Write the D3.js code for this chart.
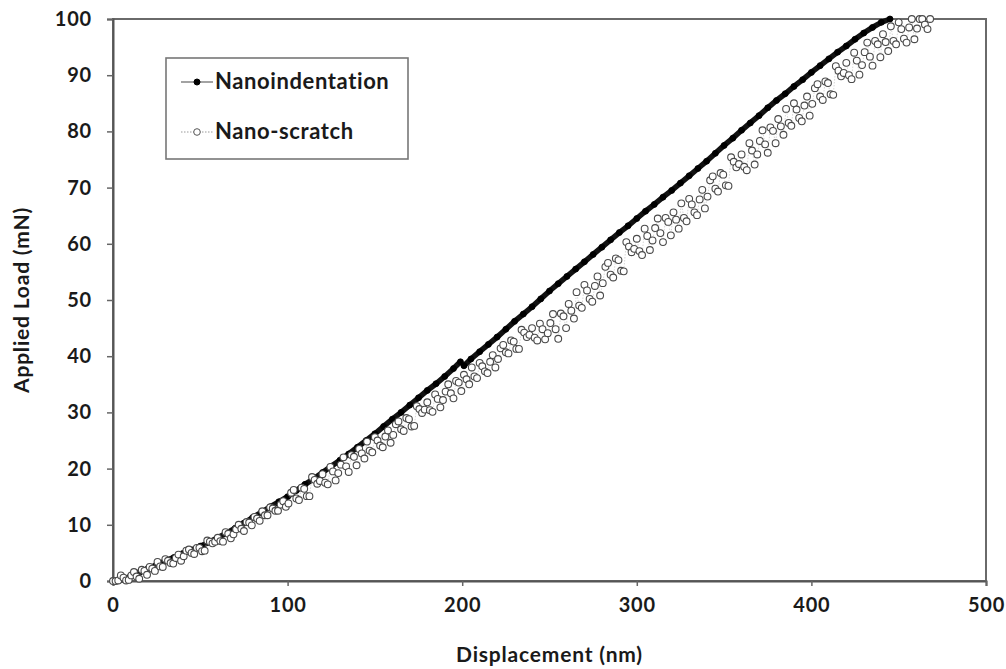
<!DOCTYPE html>
<html>
<head>
<meta charset="utf-8">
<script src="https://cdn.jsdelivr.net/npm/d3@7"></script>
<style>
  html, body { margin: 0; padding: 0; background: #fff; }
  svg { display: block; }
  text { font-family: Lato, "Open Sans", sans-serif; font-weight: bold; fill: #1a1a1a; }
</style>
</head>
<body>
<script>
// ---------- data ----------
const seriesNames = ["Nanoindentation", "Nano-scratch"];
const xTicks = [0, 100, 200, 300, 400, 500];
const yTicks = [0, 10, 20, 30, 40, 50, 60, 70, 80, 90, 100];
const xTitle = "Displacement (nm)";
const yTitle = "Applied Load (mN)";

const dispNano = [0,5,10,15,20,25,30,35,40,45,50,55,60,65,70,75,80,85,90,95,100,105,110,115,120,125,130,135,140,145,150,155,160,165,170,175,180,185,190,195,199,201,205,210,215,220,225,230,235,240,245,250,255,260,265,270,275,280,285,290,295,300,305,310,315,320,325,330,335,340,345,350,355,360,365,370,375,380,385,390,395,400,405,410,415,420,425,430,435,440,445];
const loadNano = [0,0.3,0.8,1.5,2.2,2.9,3.6,4.2,4.9,5.5,6.2,6.9,7.7,8.5,9.4,10.3,11.3,12.2,13.2,14.1,15.0,16.1,17.2,18.2,19.3,20.4,21.5,22.6,23.8,25.0,26.2,27.5,28.8,30.0,31.3,32.6,33.9,35.1,36.4,37.8,39.0,38.3,39.5,40.8,42.1,43.4,44.8,46.2,47.5,48.8,50.2,51.6,52.9,54.2,55.5,56.8,58.1,59.4,60.7,62.0,63.2,64.5,65.8,67.0,68.3,69.5,70.8,72.1,73.4,74.7,76.1,77.5,78.8,80.2,81.5,82.8,84.2,85.5,86.7,88.0,89.2,90.5,91.7,92.9,94.1,95.2,96.4,97.5,98.5,99.4,100];

// Nano-scratch, recorded in two interleaved runs of readings
const dispScratchA = [0,3,6,9,12,15,18,21,24,27,30,33,36,39,42,45,48,51,54,57,60,63,66,69,72,75,78,81,84,87,90,93,96,99,102,105,108,111,114,117,120,123,126,129,132,135,138,141,144,147,150,153,156,159,162,165,168,171,174,177,180,183,186,189,192,195,198,201,204,207,210,213,216,219,222,225,228,231,234,237,240,243,246,249,252,255,258,261,264,267,270,273,276,279,282,285,288,291,294,297,300,303,306,309,312,315,318,321,324,327,330,333,336,339,342,345,348,351,354,357,360,363,366,369,372,375,378,381,384,387,390,393,396,399,402,405,408,411,414,417,420,423,426,429,432,435,438,441,444,447,450,453,456,459,462,465,468];
const loadScratchA = [0,0.1,0.6,0.2,1.6,0.4,1.8,2.5,1.8,2.6,3.9,3.2,4.1,3.6,5.4,5.0,5.9,5.3,7.2,6.7,7.7,7.0,8.4,8.3,10.0,8.9,10.4,11.4,10.7,11.7,13.1,12.5,13.6,13.2,15.7,14.7,16.6,15.1,18.5,17.3,19.0,17.2,19.5,19.2,22.0,19.4,22.1,23.5,21.8,23.2,25.6,24.1,25.7,24.6,27.9,27.0,29.0,27.5,31.1,29.9,31.8,30.1,32.4,32.2,35.0,32.5,35.3,36.7,35.0,36.4,38.8,37.3,39.0,38.0,41.4,40.7,42.8,41.3,44.7,43.4,45.0,42.8,44.8,44.1,47.5,43.1,47.1,49.3,46.7,49.0,52.7,50.2,52.5,50.8,55.9,54.5,57.4,55.2,60.3,58.5,60.9,58.0,61.4,60.6,64.5,60.3,63.9,65.6,62.7,64.6,68.0,65.6,67.9,66.3,71.3,69.8,72.6,70.4,75.4,73.6,75.9,73.1,76.6,75.9,80.2,76.2,80.1,82.2,79.4,81.5,85.0,82.4,84.6,82.8,87.7,86.2,88.9,86.6,91.6,89.8,92.2,89.3,92.6,91.8,95.8,91.7,95.5,97.3,94.3,96.1,99.4,96.5,98.5,96.4,100,99.0,100];
const dispScratchB = [1.5,4.5,7.5,10.5,13.5,16.5,19.5,22.5,25.5,28.5,31.5,34.5,37.5,40.5,43.5,46.5,49.5,52.5,55.5,58.5,61.5,64.5,67.5,70.5,73.5,76.5,79.5,82.5,85.5,88.5,91.5,94.5,97.5,100.5,103.5,106.5,109.5,112.5,115.5,118.5,121.5,124.5,127.5,130.5,133.5,136.5,139.5,142.5,145.5,148.5,151.5,154.5,157.5,160.5,163.5,166.5,169.5,172.5,175.5,178.5,181.5,184.5,187.5,190.5,193.5,196.5,199.5,202.5,205.5,208.5,211.5,214.5,217.5,220.5,223.5,226.5,229.5,232.5,235.5,238.5,241.5,244.5,247.5,250.5,253.5,256.5,259.5,262.5,265.5,268.5,271.5,274.5,277.5,280.5,283.5,286.5,289.5,292.5,295.5,298.5,301.5,304.5,307.5,310.5,313.5,316.5,319.5,322.5,325.5,328.5,331.5,334.5,337.5,340.5,343.5,346.5,349.5,352.5,355.5,358.5,361.5,364.5,367.5,370.5,373.5,376.5,379.5,382.5,385.5,388.5,391.5,394.5,397.5,400.5,403.5,406.5,409.5,412.5,415.5,418.5,421.5,424.5,427.5,430.5,433.5,436.5,439.5,442.5,445.5,448.5,451.5,454.5,457.5,460.5,463.5,466.5];
const loadScratchB = [0.0,1.0,0.1,1.0,0.8,2.0,1.1,2.2,3.4,2.5,3.6,3.1,4.7,4.4,5.6,4.8,5.9,5.4,7.0,7.0,7.1,8.7,7.6,9.2,9.3,10.5,9.9,11.1,12.4,11.7,12.9,12.5,14.2,13.8,16.2,14.4,16.4,15.1,18.0,17.8,17.5,20.3,17.9,20.7,20.4,22.4,20.6,22.7,24.8,22.9,25.0,23.8,26.8,26.0,28.4,26.7,28.8,27.6,30.6,30.5,30.4,33.2,30.9,33.7,33.4,35.6,33.8,35.9,38.0,36.1,38.2,37.0,40.2,39.5,42.0,40.5,42.6,41.3,44.2,43.8,43.3,45.8,43.0,45.9,44.8,47.6,45.0,48.1,51.4,48.6,51.7,49.7,54.2,53.0,56.6,54.0,57.1,55.1,59.5,59.1,58.7,62.7,58.9,62.8,61.9,64.6,61.5,64.3,67.2,64.0,67.0,65.1,69.6,68.4,72.0,69.3,72.3,70.3,74.6,74.2,73.7,77.9,74.1,78.3,77.7,80.7,77.9,80.9,84.0,81.0,83.9,81.8,86.2,84.9,88.4,85.6,88.6,86.5,90.8,90.4,90.0,94.0,90.1,94.1,93.3,96.1,93.2,95.9,98.7,95.5,98.2,95.8,100.0,98.3,100,98.2];

const nano = dispNano.map((d, i) => ({ x: d, y: loadNano[i] }));
const scratch = dispScratchA.map((d, i) => ({ x: d, y: loadScratchA[i] }))
  .concat(dispScratchB.map((d, i) => ({ x: d, y: loadScratchB[i] })))
  .sort((a, b) => a.x - b.x);

// ---------- chart ----------
const W = 1006, H = 669;
const svg = d3.select("body").append("svg").attr("width", W).attr("height", H);
svg.append("rect").attr("width", W).attr("height", H).attr("fill", "#fff");

const x = d3.scaleLinear().domain([0, 500]).range([113, 986]);
const y = d3.scaleLinear().domain([0, 100]).range([581, 19]);

// plot frame
svg.append("rect")
  .attr("x", x(0)).attr("y", y(100))
  .attr("width", x(500) - x(0)).attr("height", y(0) - y(100))
  .attr("fill", "none").attr("stroke", "#6a6a6a").attr("stroke-width", 2);

// axes
const gx = svg.append("g").attr("transform", `translate(0,${y(0)})`)
  .call(d3.axisBottom(x).tickValues(xTicks).tickFormat(d3.format("d")).tickSize(5).tickPadding(12));
const gy = svg.append("g").attr("transform", `translate(${x(0)},0)`)
  .call(d3.axisLeft(y).tickValues(yTicks).tickFormat(d3.format("d")).tickSize(6).tickPadding(15));
[gx, gy].forEach(g => {
  g.select(".domain").attr("stroke", "#555").attr("stroke-width", 2);
  g.selectAll(".tick line").attr("stroke", "#666").attr("stroke-width", 1.5);
  g.selectAll(".tick text").style("font-size", "20px").style("font-family", "Lato, sans-serif")
    .style("font-weight", "bold").style("letter-spacing", "0.8px").attr("fill", "#1a1a1a");
});

// axis titles
svg.append("text").attr("x", (x(0) + x(500)) / 2).attr("y", 662)
  .attr("text-anchor", "middle").style("font-size", "21px").style("letter-spacing", "0.8px").text(xTitle);
svg.append("text").attr("transform", `translate(29,${(y(0) + y(100)) / 2}) rotate(-90)`)
  .attr("text-anchor", "middle").style("font-size", "21px").style("letter-spacing", "0.8px").text(yTitle);

// series: nanoindentation (filled markers, dense)
const line = d3.line().x(d => x(d.x)).y(d => y(d.y));
const plot = svg.append("g");
plot.append("path").datum(nano.slice(0, 41)).attr("d", line)
  .attr("fill", "none").attr("stroke", "#111").attr("stroke-width", 5.5).attr("stroke-linecap", "round");
plot.append("path").datum(nano.slice(41)).attr("d", line)
  .attr("fill", "none").attr("stroke", "#111").attr("stroke-width", 5.5).attr("stroke-linecap", "round");
plot.selectAll("circle.nano").data(nano).enter().append("circle").attr("class", "nano")
  .attr("cx", d => x(d.x)).attr("cy", d => y(d.y)).attr("r", 3)
  .attr("fill", "#000").attr("stroke", "#000").attr("stroke-width", 0.8);

// series: nano-scratch (open circles)
plot.append("path").datum(scratch).attr("d", line)
  .attr("fill", "none").attr("stroke", "#bbb").attr("stroke-width", 0.6).attr("stroke-dasharray", "1.5,1.5");
plot.selectAll("circle.scr").data(scratch).enter().append("circle").attr("class", "scr")
  .attr("cx", d => x(d.x)).attr("cy", d => y(d.y)).attr("r", 3.4)
  .attr("fill", "#fff").attr("stroke", "#4a4a4a").attr("stroke-width", 1.1);

// legend
const lg = svg.append("g");
lg.append("rect").attr("x", 166).attr("y", 58).attr("width", 242).attr("height", 101)
  .attr("fill", "#fff").attr("stroke", "#777").attr("stroke-width", 1.6);
const legY = [82, 132];
seriesNames.forEach((name, i) => {
  const yy = legY[i];
  lg.append("line").attr("x1", 181).attr("x2", 213).attr("y1", yy).attr("y2", yy)
    .attr("stroke", i === 0 ? "#666" : "#999").attr("stroke-width", i === 0 ? 1.2 : 1)
    .attr("stroke-dasharray", i === 0 ? null : "1.5,1.5");
  lg.append("circle").attr("cx", 197).attr("cy", yy).attr("r", i === 0 ? 3 : 3.3)
    .attr("fill", i === 0 ? "#000" : "#fff").attr("stroke", i === 0 ? "#000" : "#555").attr("stroke-width", 1);
  lg.append("text").attr("x", 215).attr("y", yy + 7).style("font-size", "22px")
    .style("letter-spacing", "0.6px").text(name);
});
</script>
</body>
</html>
